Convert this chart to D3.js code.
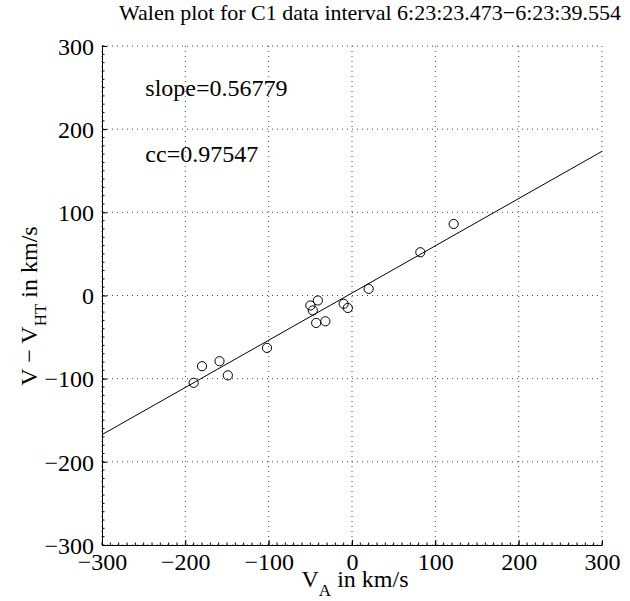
<!DOCTYPE html>
<html>
<head>
<meta charset="utf-8">
<script src="https://cdn.jsdelivr.net/npm/d3@7"></script>
<style>
  body { margin: 0; background: #fff; }
  text { font-family: "Liberation Serif", "Times New Roman", serif; fill: #000; }
</style>
</head>
<body>
<svg width="630" height="601"></svg>
<script>
// measured points (V_A, V - V_HT) in km/s
var vA  = [-190, -180, -159, -149, -102, -50, -47, -41, -43, -32, -10, -5, 20, 82, 122];
var vHT = [-105, -85, -79, -96, -63, -12, -18, -6, -33, -31, -10, -15, 8, 52, 86];

var slope = 0.56779;
var intercept = 3;
var cc = 0.97547;

var ticks = [-300, -200, -100, 0, 100, 200, 300];
var minorTicks = d3.range(-300, 301, 10);

var svgWidth = 630;
var svgHeight = 601;
var padLeft = 102, padRight = 602, padTop = 46, padBottom = 545;

var svg = d3.select("svg");

var x = d3.scaleLinear().domain([-300, 300]).range([padLeft, padRight]);
var y = d3.scaleLinear().domain([-300, 300]).range([padBottom, padTop]);

// grid
svg.selectAll(".gx")
    .data(ticks)
    .enter()
    .append("line")
    .attr("class", "gx")
    .attr("x1", function(d) { return x(d); })
    .attr("x2", function(d) { return x(d); })
    .attr("y1", padTop)
    .attr("y2", padBottom)
    .attr("stroke", "#444")
    .attr("stroke-width", 1)
    .attr("stroke-dasharray", "1,4");

svg.selectAll(".gy")
    .data(ticks)
    .enter()
    .append("line")
    .attr("class", "gy")
    .attr("y1", function(d) { return y(d); })
    .attr("y2", function(d) { return y(d); })
    .attr("x1", padLeft)
    .attr("x2", padRight)
    .attr("stroke", "#444")
    .attr("stroke-width", 1)
    .attr("stroke-dasharray", "1,4");

// minor ticks
svg.selectAll(".mx")
    .data(minorTicks)
    .enter()
    .append("line")
    .attr("class", "mx")
    .attr("x1", function(d) { return x(d); })
    .attr("x2", function(d) { return x(d); })
    .attr("y1", padBottom)
    .attr("y2", padBottom - 2.5)
    .attr("stroke", "#000");

svg.selectAll(".my")
    .data(minorTicks)
    .enter()
    .append("line")
    .attr("class", "my")
    .attr("y1", function(d) { return y(d); })
    .attr("y2", function(d) { return y(d); })
    .attr("x1", padLeft)
    .attr("x2", padLeft + 2.5)
    .attr("stroke", "#000");

// axes
var fmt = function(d) { return d < 0 ? "\u2212" + Math.abs(d) : d; };
var xAxis = d3.axisBottom(x).tickValues(ticks).tickSizeInner(-5).tickSizeOuter(0).tickPadding(10).tickFormat(fmt);
var yAxis = d3.axisLeft(y).tickValues(ticks).tickSizeInner(-5).tickSizeOuter(0).tickPadding(8).tickFormat(fmt);

var gx = svg.append("g").attr("transform", "translate(0," + padBottom + ")").call(xAxis);
var gy = svg.append("g").attr("transform", "translate(" + padLeft + ",0)").call(yAxis);

[gx, gy].forEach(function(g) {
    g.selectAll("text")
        .attr("font-family", "Liberation Serif")
        .attr("font-size", "24px")
        .attr("fill", "#000");
    g.selectAll("line").attr("stroke", "#000");
    g.select(".domain").attr("stroke", "#000");
});
gx.selectAll("text").attr("dy", "0.62em");
gy.selectAll("text").attr("dy", "0.34em");

// fit line
svg.append("line")
    .attr("x1", x(-300))
    .attr("y1", y(slope * -300 + intercept))
    .attr("x2", x(300))
    .attr("y2", y(slope * 300 + intercept))
    .attr("stroke", "#000")
    .attr("stroke-width", 1);

// points
svg.selectAll("circle")
    .data(vA)
    .enter()
    .append("circle")
    .attr("cx", function(d) { return x(d); })
    .attr("cy", function(d, i) { return y(vHT[i]); })
    .attr("r", 4.6)
    .attr("fill", "none")
    .attr("stroke", "#000")
    .attr("stroke-width", 1);

// annotations
svg.append("text")
    .attr("x", x(-248))
    .attr("y", y(240))
    .attr("font-size", "24px")
    .text("slope=" + slope);

svg.append("text")
    .attr("x", x(-248))
    .attr("y", y(160))
    .attr("font-size", "24px")
    .text("cc=" + cc);

// title
svg.append("text")
    .attr("x", 370)
    .attr("y", 20)
    .attr("text-anchor", "middle")
    .attr("font-size", "22px")
    .text("Walen plot for C1 data interval 6:23:23.473\u22126:23:39.554");

// x label
var xl = svg.append("text")
    .attr("x", 355)
    .attr("y", 587)
    .attr("text-anchor", "middle")
    .attr("font-size", "24px");
xl.append("tspan").text("V");
xl.append("tspan").attr("font-size", "17px").attr("dy", 9).text("A");
xl.append("tspan").attr("dy", -9).text(" in km/s");

// y label
var yl = svg.append("text")
    .attr("transform", "translate(37,306) rotate(-90)")
    .attr("text-anchor", "middle")
    .attr("font-size", "24px");
yl.append("tspan").text("V \u2212 V");
yl.append("tspan").attr("font-size", "17px").attr("dy", 9).text("HT");
yl.append("tspan").attr("dy", -9).text(" in km/s");
</script>
</body>
</html>
